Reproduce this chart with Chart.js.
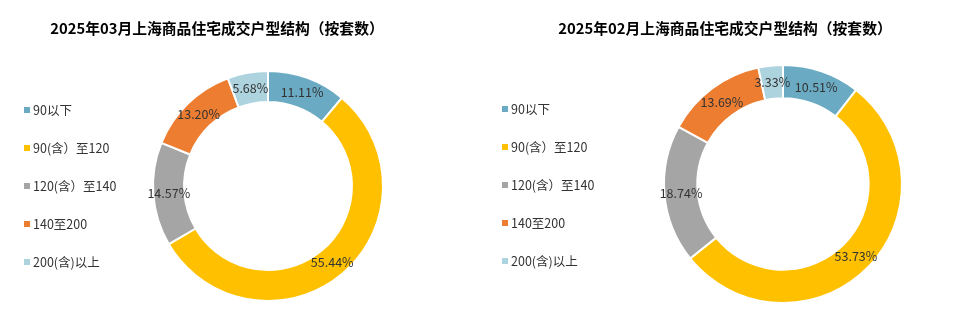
<!DOCTYPE html>
<html>
<head>
<meta charset="utf-8">
<script src="https://cdn.jsdelivr.net/npm/chart.js@4/dist/chart.umd.min.js"></script>
<style>
  html, body { margin: 0; padding: 0; background: #fff; }
  body { width: 960px; height: 328px; position: relative; overflow: hidden;
         font-family: "Noto Sans CJK SC", "Noto Sans", sans-serif; }
  .panel { position: absolute; top: 0; width: 480px; height: 328px; }
  .panel canvas { position: absolute; left: 0; top: 0; }
  .title { position: absolute; top: 17px; font-size: 14.8px; font-weight: bold; color: #000;
           white-space: nowrap; transform: translateX(-50%); }
  .legend { position: absolute; margin: 0; padding: 0; list-style: none; }
  .legend li { position: relative; height: 38px; line-height: 12px; font-size: 12.5px; color: #333;
               white-space: nowrap; padding-left: 9px; }
  .legend li span { position: absolute; left: 0; top: 3px; width: 6px; height: 6px; }
</style>
</head>
<body>
<div class="panel" style="left:0">
  <canvas id="chartMar" width="480" height="328"></canvas>
  <div class="title" style="left:217px">2025年03月上海商品住宅成交户型结构（按套数）</div>
  <ul class="legend" id="legendMar" style="left:24px;top:104px"></ul>
</div>
<div class="panel" style="left:480px">
  <canvas id="chartFeb" width="480" height="328"></canvas>
  <div class="title" style="left:245px">2025年02月上海商品住宅成交户型结构（按套数）</div>
  <ul class="legend" id="legendFeb" style="left:22px;top:103px"></ul>
</div>
<script>
/* ---------- Data ---------- */
const categories = ['90以下', '90(含）至120', '120(含）至140', '140至200', '200(含)以上'];
const marValues = [11.11, 55.44, 14.57, 13.20, 5.68];
const febValues = [10.51, 53.73, 18.74, 13.69, 3.33];
const colors = ['#6AABC3', '#FFC000', '#A5A5A5', '#ED7D31', '#ADD3DF'];

/* ---------- Labels on ring ---------- */
const ringLabels = {
  id: 'ringLabels',
  afterDatasetsDraw(chart) {
    const ctx = chart.ctx;
    const meta = chart.getDatasetMeta(0);
    const data = chart.data.datasets[0].data;
    ctx.save();
    ctx.font = '12.5px "Noto Sans CJK SC", "Noto Sans", sans-serif';
    ctx.fillStyle = '#333';
    ctx.textAlign = 'center';
    ctx.textBaseline = 'middle';
    meta.data.forEach((arc, i) => {
      const p = arc.tooltipPosition();
      ctx.fillText(data[i].toFixed(2) + '%', p.x, p.y);
    });
    ctx.restore();
  }
};

function buildLegend(id) {
  const ul = document.getElementById(id);
  ul.innerHTML = categories.map((c, i) =>
    `<li><span style="background:${colors[i]}"></span>${c}</li>`).join('');
}

function makeChart(id, values, padding, cutout) {
  return new Chart(document.getElementById(id), {
    type: 'doughnut',
    data: {
      labels: categories,
      datasets: [{ data: values, backgroundColor: colors, borderColor: '#fff', borderWidth: 2 }]
    },
    options: {
      responsive: false,
      animation: false,
      cutout: cutout,
      layout: { padding: padding },
      plugins: { legend: { display: false }, tooltip: { enabled: false }, title: { display: false } }
    },
    plugins: [ringLabels]
  });
}

buildLegend('legendMar');
buildLegend('legendFeb');
makeChart('chartMar', marValues, { left: 152, right: 96, top: 70, bottom: 26 }, '73%');
makeChart('chartFeb', febValues, { left: 183, right: 57, top: 64, bottom: 24 }, '72%');
</script>
</body>
</html>
